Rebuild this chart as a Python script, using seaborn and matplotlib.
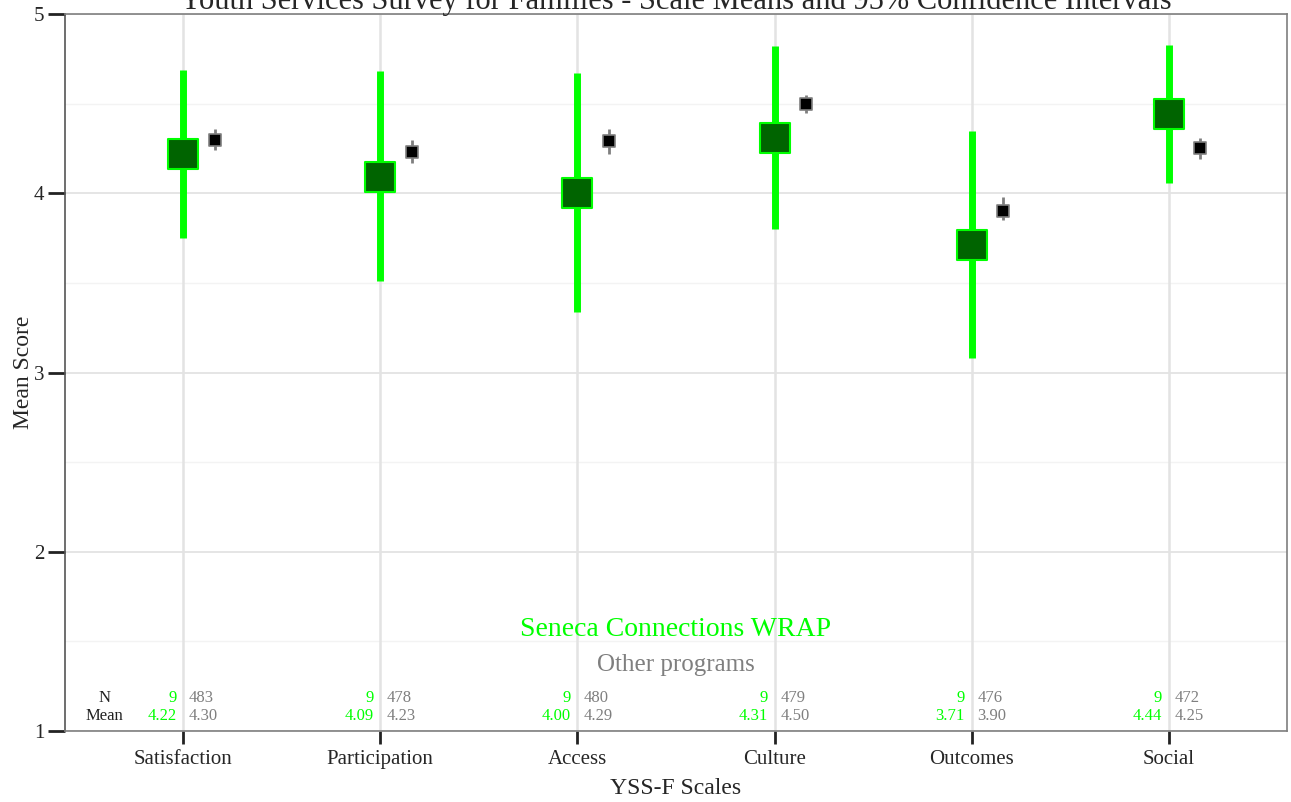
"""YSS-F scale means with 95% confidence intervals, program vs other programs."""
import numpy as np
import pandas as pd
import matplotlib
matplotlib.use('Agg')
import matplotlib.pyplot as plt
import seaborn as sns

scales = ['Satisfaction', 'Participation', 'Access', 'Culture', 'Outcomes', 'Social']

prog_mean = [4.22, 4.09, 4.00, 4.31, 3.71, 4.44]
prog_lo = [3.75, 3.51, 3.34, 3.80, 3.08, 4.06]
prog_hi = [4.69, 4.68, 4.67, 4.82, 4.35, 4.83]
prog_n = [9, 9, 9, 9, 9, 9]

other_mean = [4.30, 4.23, 4.29, 4.50, 3.90, 4.25]
other_lo = [4.24, 4.17, 4.22, 4.45, 3.85, 4.19]
other_hi = [4.36, 4.30, 4.36, 4.55, 3.98, 4.31]
other_n = [483, 478, 480, 479, 476, 472]

GREEN = '#00FF00'
DARK = '#006400'
GREY = '#7F7F7F'

sns.set_theme(style='white')
plt.rcParams['font.family'] = ['Liberation Serif', 'DejaVu Serif']

pos = np.arange(len(scales))
df = pd.DataFrame({
    'scale': scales * 2,
    'x': np.concatenate([pos, pos + 0.16]),
    'mean': prog_mean + other_mean,
    'lo': prog_lo + other_lo,
    'hi': prog_hi + other_hi,
    'group': ['prog'] * 6 + ['other'] * 6,
})
prog = df[df.group == 'prog']
other = df[df.group == 'other']

fig = plt.figure(figsize=(12.91, 8.02), dpi=100)
ax = fig.add_axes([0.0503, 0.0885, 0.9466, 0.894])

# grid
for y in [1, 2, 3, 4, 5]:
    ax.axhline(y, color='#E3E3E3', lw=1.3, zorder=0)
for y in [1.5, 2.5, 3.5, 4.5]:
    ax.axhline(y, color='#F3F3F3', lw=1.0, zorder=0)
for x in pos:
    ax.axvline(x, color='#E3E3E3', lw=1.8, zorder=0)

ax.vlines(prog['x'], prog['lo'], prog['hi'], color=GREEN, lw=5, zorder=2)
sns.scatterplot(data=prog, x='x', y='mean', marker='s', s=450, color=DARK,
                edgecolor=GREEN, linewidth=1.5, ax=ax, zorder=3, legend=False)
ax.vlines(other['x'], other['lo'], other['hi'], color=GREY, lw=2, zorder=2)
sns.scatterplot(data=other, x='x', y='mean', marker='s', s=70, color='black',
                edgecolor=GREY, linewidth=1.2, ax=ax, zorder=3, legend=False)

# N / mean table
ax.text(-0.4, 1.184, 'N', ha='center', va='center', fontsize=12, color='#222222')
ax.text(-0.4, 1.084, 'Mean', ha='center', va='center', fontsize=12, color='#222222')
for i in range(len(scales)):
    ax.text(pos[i] - 0.035, 1.184, f'{prog_n[i]}', ha='right', va='center', fontsize=12, color=GREEN)
    ax.text(pos[i] - 0.035, 1.084, f'{prog_mean[i]:.2f}', ha='right', va='center', fontsize=12, color=GREEN)
    ax.text(pos[i] + 0.03, 1.184, f'{other_n[i]}', ha='left', va='center', fontsize=12, color=GREY)
    ax.text(pos[i] + 0.03, 1.084, f'{other_mean[i]:.2f}', ha='left', va='center', fontsize=12, color=GREY)

ax.text(2.5, 1.565, 'Seneca Connections WRAP', ha='center', va='center', fontsize=20, color=GREEN)
ax.text(2.5, 1.37, 'Other programs', ha='center', va='center', fontsize=18, color=GREY)

ax.set_xlim(-0.6, 5.6)
ax.set_ylim(1, 5)
ax.set_xticks(pos)
ax.set_xticklabels(scales)
ax.set_yticks([1, 2, 3, 4, 5])
ax.tick_params(axis='both', labelsize=15, length=9, width=2, color='#222222',
               direction='out', bottom=True, left=True, pad=5)
ax.tick_params(axis='y', length=12, pad=3)
for side in ['top', 'right', 'bottom']:
    ax.spines[side].set_color('#7F7F7F')
    ax.spines[side].set_linewidth(1.2)
ax.spines['left'].set_color('#555555')
ax.spines['left'].set_linewidth(1.2)
ax.set_xlabel('YSS-F Scales', fontsize=17, labelpad=6)
ax.set_ylabel('Mean Score', fontsize=17, labelpad=0)

fig.text(0.5236, 1 - 9 / 802, 'Youth Services Survey for Families - Scale Means and 95% Confidence Intervals',
         ha='center', va='baseline', fontsize=22)

fig.savefig('out.png', dpi=100)
